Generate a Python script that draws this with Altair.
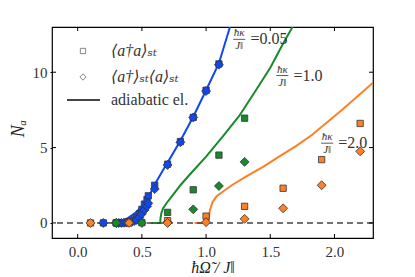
import altair as alt
import pandas as pd

# ---- data ----
blue_x = [0.2, 0.3, 0.32, 0.34, 0.36, 0.38, 0.4, 0.42, 0.44, 0.46, 0.48, 0.5, 0.52, 0.54, 0.55, 0.6, 0.7, 0.8, 0.9, 1.0, 1.1]
blue_sq = [0.0, 0.0, 0.0, 0.01, 0.02, 0.04, 0.07, 0.12, 0.2, 0.35, 0.6, 0.9, 1.25, 1.55, 1.8, 2.5, 3.9, 5.4, 7.0, 8.8, 10.55]
blue_di = [0.0, 0.0, 0.0, 0.0, 0.01, 0.02, 0.04, 0.07, 0.12, 0.2, 0.35, 0.6, 0.85, 1.1, 1.3, 2.25, 3.85, 5.35, 7.0, 8.75, 10.5]

green_x = [0.3, 0.5, 0.7, 0.9, 1.1, 1.3]
green_sq = [0.0, 0.02, 0.7, 2.2, 4.5, 6.95]
green_di = [0.0, 0.0, 0.05, 0.9, 2.45, 4.05]

orange_x = [0.1, 0.4, 0.7, 1.0, 1.3, 1.6, 1.9, 2.2]
orange_sq = [0.0, 0.0, 0.15, 0.45, 1.1, 2.3, 4.2, 6.6]
orange_di = [0.0, 0.0, 0.0, 0.05, 0.27, 0.97, 2.5, 4.75]

blue_line_x = [0.3, 0.33, 0.37, 0.405, 0.43, 0.457, 0.48, 0.509, 0.535, 0.56, 0.6, 0.664, 0.7, 0.8, 0.9, 1.0, 1.1, 1.186]
blue_line_y = [0.0, 0.1, 0.22, 0.4, 0.55, 0.73, 0.93, 1.18, 1.5, 1.85, 2.55, 3.5, 4.0, 5.45, 7.05, 8.8, 10.6, 13.0]
green_line_x = [0.57, 0.643, 0.645, 0.651, 0.664, 0.69, 0.741, 0.8, 0.87, 1.0, 1.129, 1.258, 1.388, 1.5, 1.6, 1.70]
green_line_y = [0.0, 0.0, 0.3, 0.63, 0.96, 1.29, 1.85, 2.5, 3.18, 4.4, 5.73, 7.1, 8.8, 10.3, 11.9, 13.4]
orange_line_x = [0.91, 1.02, 1.022, 1.03, 1.051, 1.08, 1.129, 1.2, 1.31, 1.45, 1.568, 1.7, 1.826, 2.06, 2.3]
orange_line_y = [0.0, 0.0, 0.4, 0.85, 1.4, 1.75, 2.07, 2.5, 3.07, 3.75, 4.4, 5.1, 5.85, 7.51, 9.3]

series_names = ["0.05", "1.0", "2.0"]
series_colors = ["#1048f0", "#178a2c", "#ff7f27"]

ann_cx = [1.258, 1.594, 1.943]
ann_y = [12.18, 9.78, 5.29]
ann_lx = [1.345, 1.68, 2.03]
ann_text = ["=0.05", "=1.0", "=2.0"]

x_ticks = [0.0, 0.5, 1.0, 1.5, 2.0]
y_ticks = [0, 5, 10]
zero_level = [0]

legend_labels = ["⟨a†a⟩ₛₜ", "⟨a†⟩ₛₜ⟨a⟩ₛₜ", "adiabatic el."]

# ---- build tables ----
pts = []
lines = []
for name, xs_, sq, di, lx, ly in [
    ("0.05", blue_x, blue_sq, blue_di, blue_line_x, blue_line_y),
    ("1.0", green_x, green_sq, green_di, green_line_x, green_line_y),
    ("2.0", orange_x, orange_sq, orange_di, orange_line_x, orange_line_y),
]:
    for i, x in enumerate(xs_):
        pts.append({"s": name, "x": x, "y": sq[i], "kind": "square"})
        pts.append({"s": name, "x": x, "y": di[i], "kind": "diamond"})
    for i, x in enumerate(lx):
        lines.append({"s": name, "x": x, "y": ly[i], "o": i})
pts = pd.DataFrame(pts)
lines = pd.DataFrame(lines)
ann = pd.DataFrame({"cx": ann_cx, "y": ann_y, "lx": ann_lx, "t": ann_text})
ann["x0"] = ann["cx"] - 0.047
ann["x1"] = ann["cx"] + 0.047

W, H = 321, 211
FONT = "Liberation Serif, DejaVu Serif, serif"
xs = alt.Scale(domain=[-0.2, 2.3], nice=False, zero=False)
ys = alt.Scale(domain=[-1, 13], nice=False, zero=False)
col = alt.Color("s:N", scale=alt.Scale(domain=series_names, range=series_colors), legend=None)
fill_enc = alt.Fill("s:N", scale=alt.Scale(domain=series_names, range=series_colors), legend=None)

X = alt.X("x:Q", scale=xs, axis=alt.Axis(values=x_ticks, format=".1f", title="ħΩ̃ / J‖",
          grid=False, domain=False, tickSize=0, labelPadding=6, labelFont=FONT, labelFontSize=15,
          labelColor="#333", titleFont=FONT, titleFontSize=16, titleFontStyle="italic",
          titleFontWeight="normal", titleColor="#222", titleY=29, titleBaseline="middle"))
Y = alt.Y("y:Q", scale=ys, axis=alt.Axis(values=y_ticks, title="Nₐ", grid=False, domain=False,
          tickSize=2, tickColor="#000", labelPadding=3, labelFont=FONT, labelFontSize=15, labelColor="#333",
          titleFont=FONT, titleFontSize=18, titleFontStyle="italic", titleFontWeight="normal",
          titleColor="#222", titleX=-34, titleY=101, titleBaseline="middle", titleAlign="center"))

base_x = alt.X("x:Q", scale=xs)
base_y = alt.Y("y:Q", scale=ys)

zero = alt.Chart(pd.DataFrame({"y": zero_level})).mark_rule(
    color="#444", strokeWidth=1.5, strokeDash=[6, 4]).encode(y=base_y)

line_layer = alt.Chart(lines).mark_line(strokeWidth=2, clip=True).encode(
    x=X, y=Y, color=col, detail="s:N", order="o:Q")

def pts_layer(name):
    d = pts[pts["s"] == name]
    sq = alt.Chart(d[d["kind"] == "square"]).mark_point(
        shape="square", filled=True, size=40, stroke="#333", strokeWidth=0.8, opacity=1
    ).encode(x=base_x, y=base_y, fill=fill_enc)
    di = alt.Chart(d[d["kind"] == "diamond"]).mark_point(
        shape="diamond", filled=True, size=80, stroke="#333", strokeWidth=0.8, opacity=1
    ).encode(x=base_x, y=base_y, fill=fill_enc)
    return sq + di

points = pts_layer("0.05") + pts_layer("1.0") + pts_layer("2.0")

# annotations
num = alt.Chart(ann).mark_text(font=FONT, fontSize=11, fontStyle="italic", color="#333",
                               baseline="middle", dy=-6).encode(x=alt.X("cx:Q", scale=xs), y=base_y, text=alt.value("ħκ"))
den = alt.Chart(ann).mark_text(font=FONT, fontSize=11, fontStyle="italic", color="#333",
                               baseline="middle", dy=7).encode(x=alt.X("cx:Q", scale=xs), y=base_y, text=alt.value("J‖"))
bar = alt.Chart(ann).mark_rule(color="#333", strokeWidth=0.8).encode(
    x=alt.X("x0:Q", scale=xs), x2="x1:Q", y=base_y)
val = alt.Chart(ann).mark_text(font=FONT, fontSize=16, color="#333", align="left",
                               baseline="middle").encode(x=alt.X("lx:Q", scale=xs), y=base_y, text="t:N")

# inward ticks
tx = pd.DataFrame({"x": x_ticks})
ty = pd.DataFrame({"y": y_ticks})
tick_style = dict(color="#000", strokeWidth=1)
t_bottom = alt.Chart(tx).mark_rule(**tick_style).encode(x=base_x, y=alt.value(H), y2=alt.value(H - 4))
t_top = alt.Chart(tx).mark_rule(**tick_style).encode(x=base_x, y=alt.value(0), y2=alt.value(4))
t_left = alt.Chart(ty).mark_rule(**tick_style).encode(y=base_y, x=alt.value(0), x2=alt.value(4))
t_right = alt.Chart(ty).mark_rule(**tick_style).encode(y=base_y, x=alt.value(W), x2=alt.value(W - 4))

# manual legend
one = pd.DataFrame({"k": [0]})
leg_sq = alt.Chart(one).mark_point(shape="square", filled=True, fill="white", stroke="#555",
                                   strokeWidth=1, size=28).encode(x=alt.value(31), y=alt.value(24))
leg_di = alt.Chart(one).mark_point(shape="diamond", filled=True, fill="white", stroke="#555",
                                   strokeWidth=1, size=40).encode(x=alt.value(31), y=alt.value(50))
leg_ln = alt.Chart(one).mark_rule(color="#444", strokeWidth=2).encode(
    x=alt.value(15), x2=alt.value(48), y=alt.value(73))
leg_txt1 = alt.Chart(one).mark_text(font=FONT, fontSize=16, fontStyle="italic", color="#333",
                                    align="left", baseline="middle").encode(
    x=alt.value(59), y=alt.value(24), text=alt.value(legend_labels[0]))
leg_txt2 = alt.Chart(one).mark_text(font=FONT, fontSize=16, fontStyle="italic", color="#333",
                                    align="left", baseline="middle").encode(
    x=alt.value(59), y=alt.value(50), text=alt.value(legend_labels[1]))
leg_txt3 = alt.Chart(one).mark_text(font=FONT, fontSize=16, color="#333",
                                    align="left", baseline="middle").encode(
    x=alt.value(59), y=alt.value(73), text=alt.value(legend_labels[2]))

chart = alt.layer(
    line_layer, zero, points, bar, num, den, val,
    t_bottom, t_top, t_left, t_right,
    leg_sq, leg_di, leg_ln, leg_txt1, leg_txt2, leg_txt3,
).properties(
    width=W, height=H,
    autosize=alt.AutoSizeParams(type="none"),
    padding={"left": 44, "top": 19, "right": 30, "bottom": 39},
).configure_view(stroke="#000", strokeWidth=1.2)

chart.save("out.html", embed_options={"renderer": "svg", "actions": False})
